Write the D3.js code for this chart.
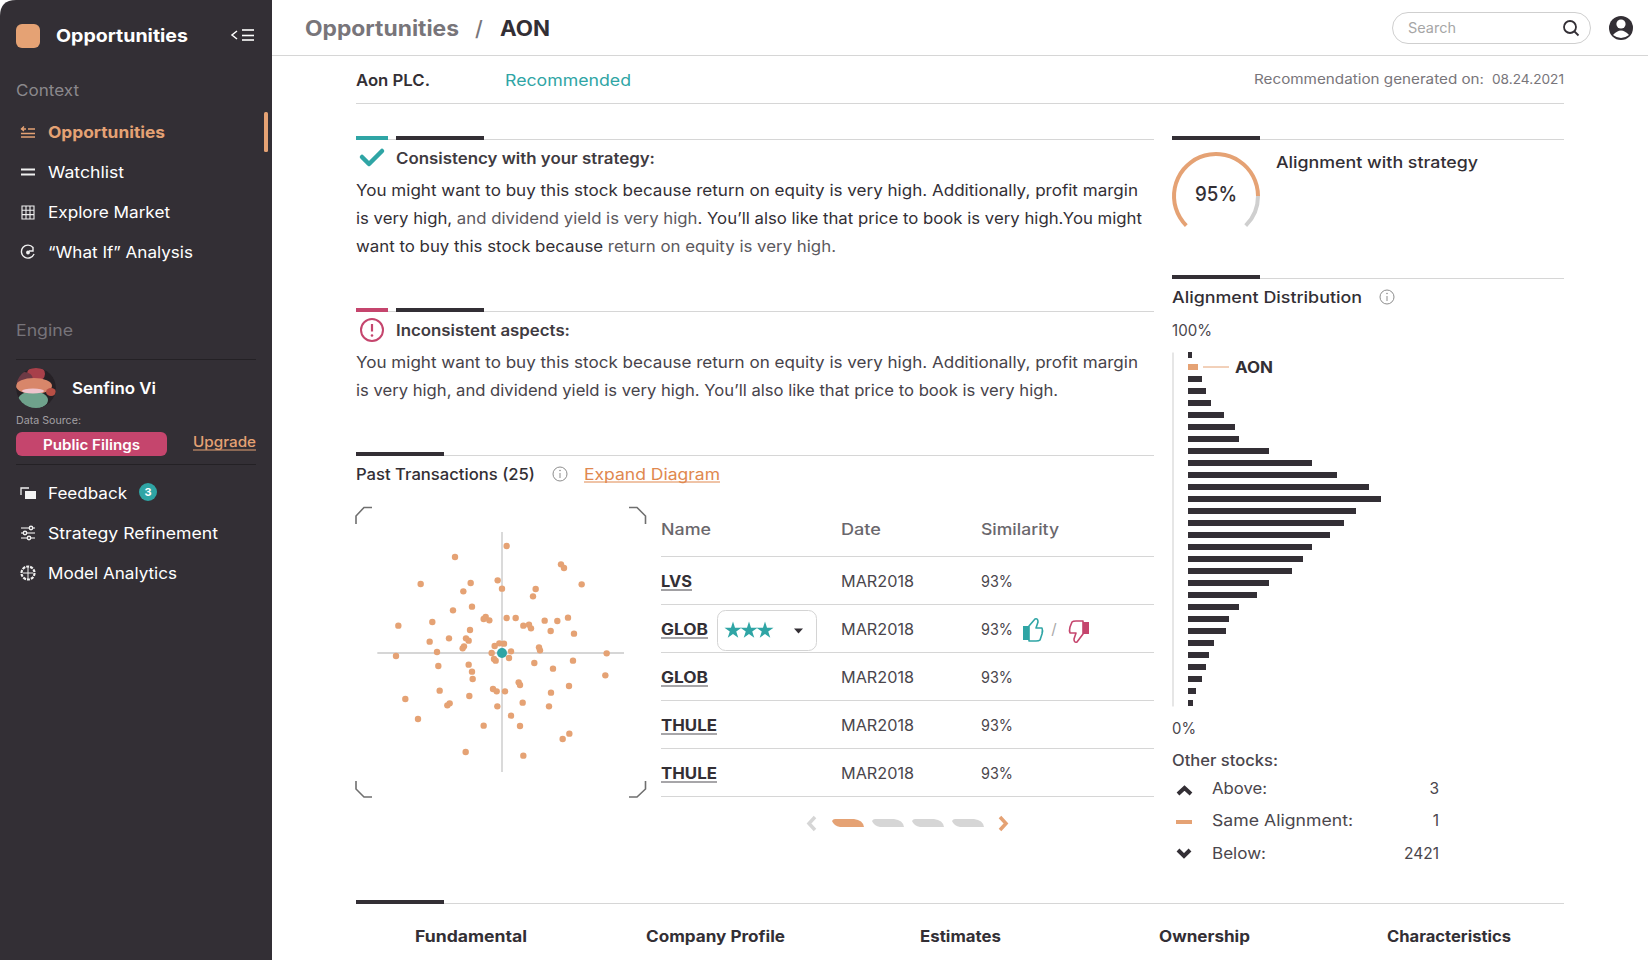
<!DOCTYPE html>
<html>
<head>
<meta charset="utf-8">
<title>Opportunities / AON</title>
<script src="https://cdn.jsdelivr.net/npm/d3@7"></script>
<style>
  html, body { margin: 0; padding: 0; background: #fff; overflow: hidden; }
  svg { display: block; }
  text { font-family: Inter, "Noto Sans", sans-serif; }
</style>
</head>
<body>
<svg id="page"></svg>
<script>
document.addEventListener('DOMContentLoaded', function() {
  const dark = '#332f35';
  const orange = '#e5a274';
  const teal = '#2fa5a5';
  const pink = '#c5456d';
  const rule = '#d6d6d6';

  // value = bar length, first bin is the top (100%) one
  const distribution = [4, 10, 14, 18, 23, 36, 47, 51, 81, 124, 149, 181, 193, 168, 156,
    142, 124, 115, 104, 81, 69, 51, 41, 38, 26, 21, 18, 14, 8, 5];
  const aonBin = 1;

  const transactions = [
    { name: 'LVS', date: 'MAR2018', similarity: '93%', w: 31 },
    { name: 'GLOB', date: 'MAR2018', similarity: '93%', w: 47, rated: true },
    { name: 'GLOB', date: 'MAR2018', similarity: '93%', w: 47 },
    { name: 'THULE', date: 'MAR2018', similarity: '93%', w: 56 },
    { name: 'THULE', date: 'MAR2018', similarity: '93%', w: 56 }
  ];

  // position of the past transactions around AON
  const neighbours = [[14,321],[-141,288],[177,266],[186,255],[-244,207],[-94,210],[-13,218],[239,206],
    [0,193],[101,192],[-116,185],[93,170],[-90,139],[-147,128],[-49,108],[-55,102],[-38,98],[14,105],
    [41,105],[198,106],[-209,93],[128,97],[166,96],[-311,82],[64,82],[81,85],[87,74],[-96,69],[146,66],
    [216,58],[-159,44],[-108,44],[-100,37],[-217,34],[-8,29],[6,28],[-22,21],[-114,20],[-118,14],[111,17],
    [114,8],[-195,3],[-31,0],[27,5],[-318,-9],[314,-1],[21,-15],[-24,-18],[-19,-23],[213,-23],[-100,-35],
    [97,-30],[-191,-39],[153,-47],[-90,-56],[-88,-78],[310,-67],[50,-88],[54,-96],[201,-99],[-187,-113],
    [-27,-108],[-16,-115],[9,-115],[147,-119],[-98,-129],[-290,-138],[-157,-151],[-164,-157],[62,-149],
    [-14,-160],[141,-160],[27,-188],[-252,-198],[-55,-218],[54,-219],[202,-242],[182,-258],[-109,-297],[64,-308]];

  const svg = d3.select('#page').attr('width', 1648).attr('height', 960);

  // text helper, w forces the width the line has in the design
  function label(parent, x, y, str, opt = {}) {
    const t = parent.append('text')
      .attr('x', x).attr('y', y).attr('dy', '.36em')
      .attr('font-size', opt.size || 16)
      .attr('font-weight', opt.weight || 400)
      .attr('fill', opt.fill || dark)
      .attr('text-anchor', opt.anchor || 'start');
    if (Array.isArray(str)) {
      str.forEach(s => t.append('tspan').attr('fill', s[1] || opt.fill || dark).text(s[0]));
    } else {
      t.text(str);
    }
    if (opt.w) t.attr('textLength', opt.w).attr('lengthAdjust', 'spacingAndGlyphs');
    return t;
  }

  function underline(parent, x1, x2, y, color, width) {
    parent.append('line').attr('x1', x1).attr('x2', x2).attr('y1', y).attr('y2', y)
      .attr('stroke', color).attr('stroke-width', width);
  }

  function sectionRule(parent, x1, x2, y, accent) {
    underline(parent, x1, x2, y + 3.5, rule, 1.2);
    if (accent) {
      parent.append('rect').attr('x', x1).attr('y', y).attr('width', 32).attr('height', 4).attr('fill', accent);
      parent.append('rect').attr('x', x1 + 40).attr('y', y).attr('width', 88).attr('height', 4).attr('fill', dark);
    } else {
      parent.append('rect').attr('x', x1).attr('y', y).attr('width', 88).attr('height', 4).attr('fill', dark);
    }
  }

  function infoIcon(parent, cx, cy) {
    parent.append('circle').attr('cx', cx).attr('cy', cy).attr('r', 7)
      .attr('fill', 'none').attr('stroke', '#8d8d8d').attr('stroke-width', 1);
    parent.append('line').attr('x1', cx).attr('x2', cx).attr('y1', cy - 1).attr('y2', cy + 4)
      .attr('stroke', '#8d8d8d').attr('stroke-width', 1);
    parent.append('circle').attr('cx', cx).attr('cy', cy - 3.5).attr('r', .8).attr('fill', '#8d8d8d');
  }

  /* ---------- sidebar ---------- */
  const side = svg.append('g').attr('id', 'sidebar');
  side.append('path').attr('d', 'M0,16 Q0,0 16,0 H272 V960 H0 Z').attr('fill', dark);
  side.append('rect').attr('x', 16).attr('y', 24).attr('width', 24).attr('height', 24).attr('rx', 6).attr('fill', orange);
  label(side, 56, 36, 'Opportunities', { size: 18, weight: 700, fill: '#fff', w: 132 });
  side.append('path').attr('d', 'M237,31 L232,35 L237,39').attr('fill', 'none').attr('stroke', '#fff').attr('stroke-width', 1.5);
  [30, 35.5, 40].forEach(y => underline(side, 242, 254, y, '#fff', 1.6));

  label(side, 16, 90, 'Context', { size: 16, fill: '#8b888c', w: 63 });
  label(side, 16, 330.5, 'Engine', { size: 16, fill: '#77747a', w: 57 });

  side.append('rect').attr('x', 264).attr('y', 112).attr('width', 4).attr('height', 40).attr('rx', 1.5).attr('fill', orange);

  const menu = [
    { text: 'Opportunities', y: 132, w: 117, active: true },
    { text: 'Watchlist', y: 172, w: 76 },
    { text: 'Explore Market', y: 212, w: 122 },
    { text: '“What If” Analysis', y: 252, w: 145 },
    { text: 'Feedback', y: 493, w: 79 },
    { text: 'Strategy Refinement', y: 533, w: 170 },
    { text: 'Model Analytics', y: 573, w: 129 }
  ];
  menu.forEach(d => label(side, 48, d.y, d.text, {
    size: 16, weight: d.active ? 700 : 400, fill: d.active ? orange : '#fff', w: d.w
  }));

  // menu icons
  const ic = side.append('g').attr('fill', 'none').attr('stroke', '#f0f0f0').attr('stroke-width', 1.4);
  ic.append('g').attr('stroke', orange).call(g => {
    g.append('path').attr('d', 'M21,137 H35 M21,133.5 H35 M28,129 H35 M21,129 H26 M24,126.5 L21.5,129 L24,131');
  });
  ic.append('path').attr('d', 'M21,169.5 H35 M21,174.5 H35').attr('stroke-width', 1.8);
  ic.append('path').attr('d', 'M22,206 H34 V219 H22 Z M22,210.3 H34 M22,214.6 H34 M26,206 V219 M30,206 V219').attr('stroke-width', 1.1);
  ic.append('path').attr('d', 'M33,247.5 A6.5,6.5 0 1 0 34,254 M33,247 V251 H29');
  ic.append('circle').attr('cx', 28).attr('cy', 252.5).attr('r', 1.2).attr('fill', '#f0f0f0');
  ic.append('path').attr('d', 'M21,495 V488 H29').attr('stroke-width', 1.3);
  side.append('rect').attr('x', 25).attr('y', 491).attr('width', 11).attr('height', 8).attr('fill', '#f4f4f4');
  [[528, 31], [533, 25], [538, 29]].forEach(d => {
    ic.append('path').attr('d', `M21,${d[0]} H35`).attr('stroke-width', 1.1);
    ic.append('circle').attr('cx', d[1]).attr('cy', d[0]).attr('r', 1.7).attr('fill', dark);
  });
  ic.append('circle').attr('cx', 28).attr('cy', 573).attr('r', 6.5).attr('stroke-dasharray', '3 1').attr('stroke-width', 2.2);
  ic.append('path').attr('d', 'M28,567 V579 M23,573 H33').attr('stroke-width', 1);

  // avatar
  const defs = svg.append('defs');
  defs.append('clipPath').attr('id', 'avatarClip').append('circle').attr('cx', 36).attr('cy', 388).attr('r', 20);
  const avatar = side.append('g').attr('clip-path', 'url(#avatarClip)');
  avatar.append('circle').attr('cx', 36).attr('cy', 388).attr('r', 20).attr('fill', '#262126');
  avatar.append('ellipse').attr('cx', 36).attr('cy', 374).attr('rx', 9).attr('ry', 8).attr('fill', '#a8404a');
  avatar.append('ellipse').attr('cx', 24).attr('cy', 379).attr('rx', 9).attr('ry', 7).attr('fill', '#6d3a45');
  avatar.append('ellipse').attr('cx', 34).attr('cy', 386).attr('rx', 18).attr('ry', 8).attr('fill', '#d8866a');
  avatar.append('ellipse').attr('cx', 51).attr('cy', 392).attr('rx', 5).attr('ry', 4).attr('fill', '#b84f45');
  avatar.append('ellipse').attr('cx', 33).attr('cy', 400).attr('rx', 15).attr('ry', 9).attr('fill', '#6fa28c');
  avatar.append('ellipse').attr('cx', 33).attr('cy', 391).attr('rx', 11).attr('ry', 2.5).attr('fill', '#f0c4cc');

  label(side, 72, 388, 'Senfino Vi', { size: 16, weight: 600, fill: '#fff', w: 84 });
  label(side, 16, 420.5, 'Data Source:', { size: 10.5, fill: '#a3a0a4', w: 65 });
  underline(side, 16, 256, 359.5, '#242125', 1);
  underline(side, 16, 256, 464.5, '#242125', 1);
  side.append('rect').attr('x', 16).attr('y', 432).attr('width', 151).attr('height', 24).attr('rx', 6).attr('fill', pink);
  label(side, 43, 445, 'Public Filings', { size: 14, weight: 600, fill: '#fff', w: 97 });
  label(side, 193, 442, 'Upgrade', { size: 14, weight: 500, fill: orange, w: 63 });
  underline(side, 193, 256, 450, orange, 1);
  side.append('circle').attr('cx', 148).attr('cy', 492).attr('r', 9).attr('fill', teal);
  label(side, 148, 492, '3', { size: 11, weight: 700, fill: '#fff', anchor: 'middle' });

  /* ---------- header ---------- */
  const head = svg.append('g').attr('id', 'header');
  underline(head, 272, 1648, 55.5, rule, 1);
  label(head, 305, 28.5, 'Opportunities', { size: 21, weight: 700, fill: '#78757a', w: 154 });
  label(head, 475, 28.5, '/', { size: 21, weight: 500, fill: '#78757a' });
  label(head, 500, 28.5, 'AON', { size: 21, weight: 700, w: 50 });
  head.append('rect').attr('x', 1392.5).attr('y', 12.5).attr('width', 198).attr('height', 31).attr('rx', 15.5)
    .attr('fill', '#fff').attr('stroke', '#cfcfcf');
  label(head, 1408, 28, 'Search', { size: 14, fill: '#a6a6a6', w: 48 });
  head.append('circle').attr('cx', 1570).attr('cy', 27).attr('r', 6).attr('fill', 'none').attr('stroke', dark).attr('stroke-width', 1.8);
  head.append('line').attr('x1', 1574.5).attr('y1', 31.5).attr('x2', 1578.5).attr('y2', 35.5).attr('stroke', dark).attr('stroke-width', 1.8);
  head.append('circle').attr('cx', 1621).attr('cy', 28).attr('r', 12).attr('fill', dark);
  head.append('circle').attr('cx', 1621).attr('cy', 24).attr('r', 4.6).attr('fill', '#fff');
  head.append('path').attr('d', 'M1613,35 Q1621,26 1629,35 Q1621,41 1613,35 Z').attr('fill', '#fff');

  label(head, 356, 80, 'Aon PLC.', { size: 16, weight: 600, w: 74 });
  label(head, 505, 80, 'Recommended', { size: 16, fill: teal, w: 126 });
  label(head, 1254, 79, 'Recommendation generated on:', { size: 13.5, fill: '#78757a', w: 230 });
  label(head, 1492, 79, '08.24.2021', { size: 13.5, fill: '#78757a', w: 72 });
  underline(head, 356, 1564, 103.5, rule, 1);

  /* ---------- consistency text ---------- */
  const copy = svg.append('g').attr('id', 'copy');
  const soft = '#5c595e';
  sectionRule(copy, 356, 1154, 136, teal);
  copy.append('path').attr('d', 'M362,157 L369,164 L382,151').attr('fill', 'none').attr('stroke', teal)
    .attr('stroke-width', 4.5).attr('stroke-linejoin', 'round').attr('stroke-linecap', 'round');
  label(copy, 396, 158, 'Consistency with your strategy:', { size: 15.5, weight: 600, fill: '#3f3b41', w: 259 });
  label(copy, 356, 190.5, 'You might want to buy this stock because return on equity is very high. Additionally, profit margin', { size: 16, w: 782 });
  label(copy, 356, 218.5, [['is very high, '], ['and dividend yield is very high', soft], ['. You’ll also like that price to book is very high.You might']], { size: 16, w: 786 });
  label(copy, 356, 246.5, [['want to buy this stock because '], ['return on equity is very high.', soft]], { size: 16, w: 480 });

  sectionRule(copy, 356, 1154, 308, pink);
  copy.append('circle').attr('cx', 372).attr('cy', 330).attr('r', 11).attr('fill', 'none').attr('stroke', pink).attr('stroke-width', 2);
  copy.append('line').attr('x1', 372).attr('x2', 372).attr('y1', 324).attr('y2', 331.5).attr('stroke', pink).attr('stroke-width', 2.2);
  copy.append('circle').attr('cx', 372).attr('cy', 335.5).attr('r', 1.3).attr('fill', pink);
  label(copy, 396, 330, 'Inconsistent aspects:', { size: 15.5, weight: 600, fill: '#3f3b41', w: 174 });
  label(copy, 356, 362, 'You might want to buy this stock because return on equity is very high. Additionally, profit margin', { size: 16, fill: '#47434a', w: 782 });
  label(copy, 356, 390, 'is very high, and dividend yield is very high. You’ll also like that price to book is very high.', { size: 16, fill: '#47434a', w: 702 });

  /* ---------- past transactions scatter ---------- */
  const past = svg.append('g').attr('id', 'past');
  sectionRule(past, 356, 1154, 452);
  label(past, 356, 474, 'Past Transactions (25)', { size: 16, weight: 500, w: 179 });
  infoIcon(past, 560, 474);
  label(past, 584, 474, 'Expand Diagram', { size: 16, fill: '#e0884f', w: 136 });
  underline(past, 584, 720, 482, '#e0884f', 1);

  const x = d3.scaleLinear().domain([-372, 372]).range([378, 626]);
  const y = d3.scaleLinear().domain([-372, 372]).range([777, 529]);

  const corners = past.append('g').attr('fill', 'none').attr('stroke', '#6f6f6f').attr('stroke-width', 1.6);
  corners.append('path').attr('d', 'M356,524 V516 L364,507.5 H372');
  corners.append('path').attr('d', 'M629,507.5 H637 L645.5,516 V524');
  corners.append('path').attr('d', 'M356,781 V789 L364,797 H372');
  corners.append('path').attr('d', 'M629,797 H637 L645.5,789 V781');

  past.append('line').attr('x1', x(-374)).attr('x2', x(366)).attr('y1', y(0)).attr('y2', y(0)).attr('stroke', rule).attr('stroke-width', 1.8);
  past.append('line').attr('x1', x(0)).attr('x2', x(0)).attr('y1', y(363)).attr('y2', y(-357)).attr('stroke', rule).attr('stroke-width', 1.8);

  past.append('g').selectAll('circle')
    .data(neighbours)
    .enter().append('circle')
    .attr('cx', d => x(d[0]))
    .attr('cy', d => y(d[1]))
    .attr('r', 3.2)
    .attr('fill', orange);
  past.append('circle').attr('cx', x(0)).attr('cy', y(0)).attr('r', 5).attr('fill', teal);

  /* ---------- transactions table ---------- */
  const table = svg.append('g').attr('id', 'table');
  label(table, 661, 529, 'Name', { size: 15.5, weight: 500, fill: '#6a676c', w: 50 });
  label(table, 841, 529, 'Date', { size: 15.5, weight: 500, fill: '#6a676c', w: 40 });
  label(table, 981, 529, 'Similarity', { size: 15.5, weight: 500, fill: '#6a676c', w: 78 });
  underline(table, 661, 1154, 556.5, rule, 1.2);

  const rowY = d3.scaleBand().domain(d3.range(transactions.length)).range([556.5, 796.5]);
  transactions.forEach((d, i) => {
    const cy = rowY(i) + rowY.bandwidth() / 2 + 1;
    label(table, 661, cy, d.name, { size: 15.5, weight: 700, w: d.w });
    underline(table, 661, 661 + d.w, cy + 8.5, '#8a888c', 1.6);
    label(table, 841, cy, d.date, { size: 15.5, fill: '#4a464c', w: 73 });
    label(table, 981, cy, d.similarity, { size: 15.5, fill: '#4a464c', w: 32 });
    underline(table, 661, 1154, rowY(i) + rowY.bandwidth(), rule, 1.2);
  });

  const rated = transactions.findIndex(d => d.rated);
  const ry = rowY(rated) + rowY.bandwidth() / 2 + 2;
  table.append('rect').attr('x', 717.5).attr('y', ry - 20).attr('width', 99).attr('height', 40).attr('rx', 8)
    .attr('fill', '#fff').attr('stroke', '#d4d4d4');
  const star = d3.symbol().type(d3.symbolStar).size(90);
  [733, 749, 765].forEach(sx => table.append('path').attr('d', star()).attr('transform', `translate(${sx},${ry})`).attr('fill', teal));
  table.append('path').attr('d', `M794,${ry - 2} H803 L798.5,${ry + 3} Z`).attr('fill', dark);

  const thumb = table.append('g').attr('fill', 'none').attr('stroke-width', 1.6).attr('stroke-linejoin', 'round');
  thumb.append('path').attr('stroke', teal).attr('d', 'M1029,626 L1035,619 Q1038,618 1038,622 L1036,628 H1042 Q1043,630 1042,634 L1040,640 Q1039,641 1036,641 H1029 Z');
  thumb.append('rect').attr('x', 1023).attr('y', 626).attr('width', 6).attr('height', 14).attr('fill', teal).attr('stroke', 'none');
  label(table, 1054, 629, '/', { size: 15, fill: '#a8a8a8', anchor: 'middle' });
  thumb.append('path').attr('stroke', pink).attr('d', 'M1083,634 L1077,642 Q1074,643 1074,639 L1076,633 H1070 Q1069,631 1070,627 L1072,622 Q1073,621 1076,621 H1083 Z');
  thumb.append('rect').attr('x', 1083).attr('y', 622).attr('width', 6).attr('height', 12).attr('fill', pink).attr('stroke', 'none');

  // pager
  const pager = svg.append('g').attr('id', 'pager');
  [0, 1, 2, 3].forEach(i => {
    const px = 832 + i * 40;
    pager.append('path')
      .attr('d', `M${px},821 Q${px + 1},819 ${px + 3},819 H${px + 22} Q${px + 31},820 ${px + 32},827 H${px + 8} Q${px + 2},826 ${px},821 Z`)
      .attr('fill', i === 0 ? orange : rule);
  });
  pager.append('path').attr('d', 'M815,817 L809,823.5 L815,830').attr('fill', 'none').attr('stroke', rule).attr('stroke-width', 3.5);
  pager.append('path').attr('d', 'M1000,817 L1006,823.5 L1000,830').attr('fill', 'none').attr('stroke', orange).attr('stroke-width', 3.5);

  /* ---------- alignment gauge ---------- */
  const right = svg.append('g').attr('id', 'alignment');
  sectionRule(right, 1172, 1564, 136);
  const gaugeScale = d3.scaleLinear().domain([0, 100]).range([-135 * Math.PI / 180, 135 * Math.PI / 180]);
  const gaugeArc = d3.arc().innerRadius(40).outerRadius(44);
  const gauge = right.append('g').attr('transform', 'translate(1216,196)');
  gauge.append('path').attr('d', gaugeArc({ startAngle: gaugeScale(83.3), endAngle: gaugeScale(100) })).attr('fill', '#cfcfcf');
  gauge.append('path').attr('d', gaugeArc({ startAngle: gaugeScale(0), endAngle: gaugeScale(83.3) })).attr('fill', orange);
  label(right, 1216, 194, '95%', { size: 20, weight: 500, anchor: 'middle', w: 42 });
  label(right, 1276, 162, 'Alignment with strategy', { size: 16, weight: 500, w: 202 });

  /* ---------- alignment distribution ---------- */
  sectionRule(right, 1172, 1564, 275);
  label(right, 1172, 297, 'Alignment Distribution', { size: 16, weight: 500, w: 190 });
  infoIcon(right, 1387, 297);
  label(right, 1172, 330, '100%', { size: 15.5, fill: '#4a464c', w: 40 });
  label(right, 1172, 728, '0%', { size: 15.5, fill: '#4a464c', w: 24 });

  const binY = d3.scaleBand().domain(d3.range(distribution.length)).range([352, 706]).paddingInner(0.5);
  const barX = d3.scaleLinear().domain([0, d3.max(distribution)]).range([1188, 1381]);

  right.append('g')
    .attr('transform', 'translate(1172.5,0)')
    .call(d3.axisLeft(binY).tickSize(0).tickFormat(''))
    .call(g => g.select('.domain').attr('stroke', rule).attr('stroke-width', 1.2));

  right.append('g').selectAll('rect')
    .data(distribution)
    .enter().append('rect')
    .attr('x', barX(0))
    .attr('y', (d, i) => binY(i))
    .attr('width', d => barX(d) - barX(0))
    .attr('height', binY.bandwidth())
    .attr('fill', (d, i) => i === aonBin ? orange : dark);

  const aonY = binY(aonBin) + binY.bandwidth() / 2;
  underline(right, 1203, 1229, aonY, orange, 1);
  label(right, 1235, aonY + .5, 'AON', { size: 15.5, weight: 700, w: 38 });

  /* ---------- other stocks ---------- */
  label(right, 1172, 760, 'Other stocks:', { size: 15.5, weight: 500, fill: '#4a464c', w: 106 });
  const others = [
    { name: 'Above:', n: 3, y: 788.5, w: 55 },
    { name: 'Same Alignment:', n: 1, y: 820, w: 141 },
    { name: 'Below:', n: 2421, y: 853, w: 54 }
  ];
  others.forEach(d => {
    label(right, 1212, d.y, d.name, { size: 15.5, fill: '#4a464c', w: d.w });
    label(right, 1439, d.y, d.n, { size: 15.5, fill: '#4a464c', anchor: 'end' });
  });
  right.append('path').attr('d', 'M1178,794 L1184.5,788 L1191,794').attr('fill', 'none').attr('stroke', dark).attr('stroke-width', 4);
  right.append('rect').attr('x', 1176).attr('y', 820).attr('width', 16).attr('height', 4).attr('fill', orange);
  right.append('path').attr('d', 'M1178,850 L1184,856 L1190,850').attr('fill', 'none').attr('stroke', dark).attr('stroke-width', 4);

  /* ---------- bottom tabs ---------- */
  const tabs = svg.append('g').attr('id', 'tabs');
  sectionRule(tabs, 356, 1564, 900);
  const tabList = [
    { text: 'Fundamental', x: 415, w: 112 },
    { text: 'Company Profile', x: 646, w: 139 },
    { text: 'Estimates', x: 920, w: 81 },
    { text: 'Ownership', x: 1159, w: 91 },
    { text: 'Characteristics', x: 1387, w: 124 }
  ];
  tabList.forEach(d => label(tabs, d.x, 936, d.text, { size: 15.5, weight: 700, w: d.w }));
});
</script>
</body>
</html>
